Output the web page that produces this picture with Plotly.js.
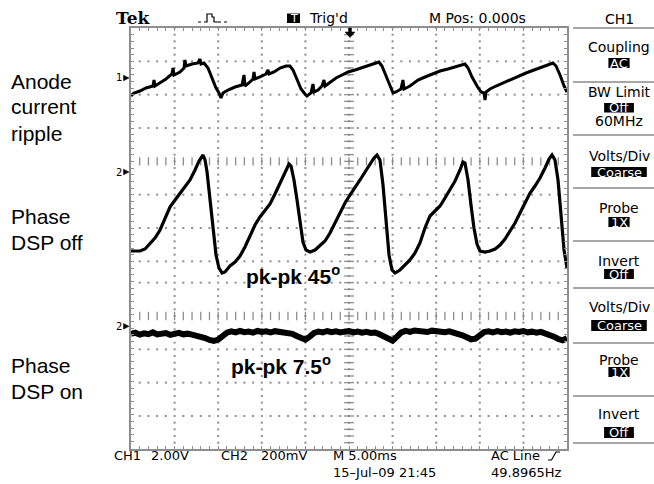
<!DOCTYPE html>
<html>
<head>
<meta charset="utf-8">
<script src="https://cdn.plot.ly/plotly-3.0.1.min.js"></script>
<style>
  html, body { margin: 0; padding: 0; background: #ffffff; }
  #scope { width: 654px; height: 484px; }
</style>
</head>
<body>
<div id="scope"></div>
<script>
// ---- Channel 1: anode current ripple (time in ms, volts) ----
const ch1Time = [0.00,0.34,1.03,1.72,2.52,2.64,2.75,3.33,4.01,4.70,4.82,4.93,5.62,6.08,6.19,6.31,7.00,7.68,7.91,8.03,8.37,8.83,9.29,9.75,10.09,10.32,10.55,11.12,11.93,12.73,12.96,13.07,13.65,13.99,14.11,14.22,14.79,15.48,15.71,15.83,16.40,17.09,17.78,18.23,18.58,19.04,19.50,19.95,20.18,20.64,20.87,20.99,21.45,21.90,22.13,22.25,22.82,23.51,24.20,24.89,25.69,26.49,27.41,28.10,28.44,28.78,29.13,29.59,30.05,30.39,30.96,31.19,31.31,31.99,32.91,33.72,34.52,35.44,36.35,37.16,37.96,38.30,38.65,39.11,39.68,40.14,40.48,40.60,40.71,41.17,41.86,42.66,43.46,44.38,45.30,46.22,47.13,47.94,48.39,48.74,49.20,49.66,50.00];
const ch1Volts = [-1.08,-0.90,-0.78,-0.60,-0.48,-0.12,-0.48,-0.30,-0.06,0.24,0.60,0.18,0.36,0.60,1.08,0.72,0.84,0.90,1.14,0.84,0.90,0.60,0.00,-0.60,-0.90,-1.20,-0.90,-0.72,-0.54,-0.42,0.18,-0.48,-0.24,-0.06,0.36,-0.06,0.06,0.24,0.48,0.24,0.36,0.60,0.72,0.72,0.48,-0.12,-0.66,-0.96,-1.08,-0.90,-0.36,-0.84,-0.72,-0.48,-0.12,-0.48,-0.24,0.00,0.18,0.36,0.48,0.60,0.78,0.90,0.96,0.72,0.24,-0.36,-0.90,-0.84,-0.66,-0.12,-0.66,-0.48,-0.12,0.06,0.24,0.42,0.54,0.66,0.78,0.84,0.60,0.06,-0.48,-0.84,-0.90,-1.32,-0.84,-0.66,-0.48,-0.30,-0.12,0.12,0.30,0.48,0.66,0.84,0.90,0.72,0.18,-0.48,-0.84];

// ---- Channel 2, phase DSP off (time in ms, millivolts) ----
const ch2OffTime = [0.00,1.03,1.61,2.18,2.75,3.33,3.90,4.47,5.05,5.62,6.19,6.77,7.34,7.80,8.26,8.49,8.72,9.06,9.40,9.75,10.09,10.44,10.78,11.35,11.93,12.50,13.07,13.65,14.22,14.79,15.37,15.94,16.51,17.09,17.66,18.12,18.35,18.69,19.04,19.38,19.72,20.07,20.53,21.10,21.67,22.25,22.82,23.39,23.97,24.54,25.11,25.69,26.26,26.84,27.41,27.87,28.21,28.55,28.90,29.24,29.59,29.93,30.28,30.85,31.42,31.99,32.57,33.14,33.71,34.29,34.86,35.44,36.01,36.58,37.16,37.73,38.07,38.30,38.65,38.99,39.33,39.68,40.02,40.60,41.17,41.75,42.32,42.89,43.46,44.04,44.61,45.18,45.76,46.33,46.90,47.48,47.94,48.28,48.62,48.97,49.31,49.66,50.00];
const ch2OffMv = [-474,-474,-462,-432,-396,-348,-282,-210,-168,-126,-90,-48,12,66,102,72,0,-168,-348,-498,-576,-606,-600,-564,-540,-504,-450,-378,-318,-270,-234,-192,-132,-66,0,48,36,-48,-168,-312,-420,-468,-480,-468,-444,-414,-366,-306,-240,-186,-138,-96,-48,0,48,84,102,72,-78,-300,-498,-588,-606,-588,-558,-528,-486,-426,-336,-264,-234,-204,-156,-108,-54,12,60,54,-48,-198,-336,-432,-474,-480,-474,-462,-438,-402,-354,-306,-246,-186,-126,-84,-36,24,78,102,72,-48,-258,-468,-576];

// ---- Channel 2, phase DSP on (time in ms, millivolts) ----
const ch2OnTime = [0,0.5,1,1.5,2,2.5,3,3.5,4,4.5,5,5.5,6,6.5,7,7.5,8,8.5,9,9.5,10,10.5,11,11.5,12,12.5,13,13.5,14,14.5,15,15.5,16,16.5,17,17.5,18,18.5,19,19.5,20,20.5,21,21.5,22,22.5,23,23.5,24,24.5,25,25.5,26,26.5,27,27.5,28,28.5,29,29.5,30,30.5,31,31.5,32,32.5,33,33.5,34,34.5,35,35.5,36,36.5,37,37.5,38,38.5,39,39.5,40,40.5,41,41.5,42,42.5,43,43.5,44,44.5,45,45.5,46,46.5,47,47.5,48,48.5,49,49.5,50];
const ch2OnMv = [-45,-38,-50,-42,-47,-36,-49,-44,-40,-51,-43,-39,-48,-44,-50,-55,-62,-70,-82,-88,-80,-60,-38,-30,-36,-27,-35,-31,-38,-28,-34,-30,-37,-29,-33,-39,-36,-45,-58,-72,-80,-62,-40,-31,-36,-28,-35,-30,-37,-32,-29,-36,-31,-38,-33,-40,-37,-48,-60,-78,-86,-62,-36,-27,-33,-25,-31,-28,-34,-26,-32,-29,-35,-30,-36,-45,-54,-66,-78,-74,-50,-34,-30,-37,-29,-35,-31,-38,-30,-34,-28,-36,-32,-38,-33,-40,-50,-62,-76,-84,-72];

// Vertical settings (divisions measured down from the top of the graticule)
const ch1VoltsPerDiv = 2.0, ch1Ground = 1.5;
const ch2MvPerDiv = 200, ch2OffGround = 4.32, ch2OnGround = 8.95;

// Status / menu text
const topLabels = ["Tek", "Trig'd", "M Pos: 0.000s"];
const menuTitle = "CH1";
const menuItems = [
  {label: "Coupling", value: "AC"},
  {label: "BW Limit", value: "Off", extra: "60MHz"},
  {label: "Volts/Div", value: "Coarse"},
  {label: "Probe", value: "1X"},
  {label: "Invert", value: "Off"},
  {label: "Volts/Div", value: "Coarse"},
  {label: "Probe", value: "1X"},
  {label: "Invert", value: "Off"}
];
const bottomRow1 = ["CH1", "2.00V", "CH2", "200mV", "M 5.00ms", "AC Line"];
const bottomRow2 = ["15\u2013Jul\u201309 21:45", "49.8965Hz"];
const sideLabels = [["Anode", "current", "ripple"], ["Phase", "DSP off"], ["Phase", "DSP on"]];
const pkLabels = ["pk-pk 45<sup>o</sup>", "pk-pk 7.5<sup>o</sup>"];

// ---- Geometry of the page ----
const L = 131, R = 567, T = 28, B = 449, W = 654, H = 484;
const YMAX = 12.63;         // graticule height in divisions
const SEAM = 7.3;           // where the upper and lower screens join
const GRID = '#8e8e8e';
const px = x => (x - L) / (R - L);
const py = y => (B - y) / (B - T);

const toDiv = (vals, ground, scale) => vals.map(v => ground - v / scale);

// Dotted graticule
const gx = [], gy = [];
for (let t = 5; t < 50; t += 5) {
  for (let d = 0; d <= SEAM; d += 0.2) { gx.push(t); gy.push(d); }
  for (let d = 8.64 - 0.2 * 6; d < YMAX; d += 0.2) { if (d > SEAM) { gx.push(t); gy.push(d); } }
}
const upperMajors = [1, 2, 3, 5, 6, 7];
const lowerMajors = [7.64, 9.64, 10.64, 11.64];
for (const d of upperMajors.concat(lowerMajors)) {
  for (let t = 1; t < 50; t += 1) { if (t % 5 !== 0) { gx.push(t); gy.push(d); } }
}
// Tick marks on the centre lines
const cx = [], cy = [];
for (const d of [4, 8.64]) for (let t = 1; t < 50; t += 1) { cx.push(t); cy.push(d); }
const vx = [], vy = [];
for (let d = 0.2; d <= SEAM; d += 0.2) { vx.push(25); vy.push(d); }
for (let d = 8.64 - 0.2 * 6; d < YMAX - 0.1; d += 0.2) { if (d > SEAM) { vx.push(25); vy.push(d); } }

const traces = [
  {x: gx, y: gy, mode: 'markers', type: 'scatter', hoverinfo: 'skip',
   marker: {symbol: 'square', size: 2, color: GRID}},
  {x: cx, y: cy, mode: 'markers', type: 'scatter', hoverinfo: 'skip',
   marker: {symbol: 'line-ns', size: 6, line: {width: 1.3, color: GRID}}},
  {x: vx, y: vy, mode: 'markers', type: 'scatter', hoverinfo: 'skip',
   marker: {symbol: 'line-ew', size: 7, line: {width: 1.3, color: GRID}}},
  {x: ch1Time, y: toDiv(ch1Volts, ch1Ground, ch1VoltsPerDiv), mode: 'lines', type: 'scatter',
   line: {color: '#000', width: 3}},
  {x: ch2OffTime, y: toDiv(ch2OffMv, ch2OffGround, ch2MvPerDiv), mode: 'lines', type: 'scatter',
   line: {color: '#000', width: 3.2}},
  {x: ch2OnTime, y: toDiv(ch2OnMv, ch2OnGround, ch2MvPerDiv), mode: 'lines', type: 'scatter',
   line: {color: '#000', width: 6}}
];

const annotations = [];
const shapes = [];
function txt(text, x, y, opt) {
  opt = opt || {};
  annotations.push({
    text: text, xref: 'paper', yref: 'paper', x: px(x), y: py(y),
    xanchor: opt.anchor || 'left', yanchor: 'middle', showarrow: false,
    align: 'left', borderpad: 0,
    font: {family: opt.family || 'DejaVu Sans', size: opt.size || 14,
           color: opt.color || '#000', weight: opt.weight || 'normal'}
  });
}
function rect(x0, y0, x1, y1, color) {
  shapes.push({type: 'rect', xref: 'paper', yref: 'paper', layer: 'above',
    x0: px(x0), x1: px(x1), y0: py(y1), y1: py(y0),
    fillcolor: color, line: {width: 0}});
}
function hline(x0, x1, y, color, w) {
  shapes.push({type: 'line', xref: 'paper', yref: 'paper', layer: 'above',
    x0: px(x0), x1: px(x1), y0: py(y), y1: py(y), line: {color: color, width: w}});
}
function path(pts, opt) {
  let d = '';
  pts.forEach((p, i) => { d += (i ? ' L' : 'M') + px(p[0]).toFixed(5) + ',' + py(p[1]).toFixed(5); });
  if (opt.closed) d += ' Z';
  shapes.push({type: 'path', xref: 'paper', yref: 'paper', layer: 'above', path: d,
    fillcolor: opt.fill || 'rgba(0,0,0,0)',
    line: {color: opt.color || '#000', width: opt.width || 1, dash: opt.dash || 'solid'}});
}

// Top status line
txt(topLabels[0], 115, 17.5, {family: 'DejaVu Serif', size: 17, weight: 'bold'});
path([[198, 22], [204, 22]], {dash: 'dot', width: 1});
path([[204, 22], [207, 22], [207, 14], [212, 14], [212, 17], [214, 17], [214, 22], [218, 22]], {width: 1.2});
path([[218, 22], [230, 22]], {dash: 'dot', width: 1});
rect(287, 13.5, 300, 23, '#000');
txt('T', 293.5, 18.3, {anchor: 'center', size: 11, color: '#fff'});
txt(topLabels[1], 308, 17.8);
txt(topLabels[2], 428, 17.8);
// Trigger position arrow
path([[348.5, 28], [351.5, 28], [351.5, 32], [355, 32], [350, 37.5], [345, 32], [348.5, 32]],
     {closed: true, fill: '#000', width: 0.5});

// Ground markers
const markers = [['1', ch1Ground], ['2', ch2OffGround], ['2', ch2OnGround]];
for (const [lab, d] of markers) {
  const y = T + d * (B - T) / YMAX;
  txt(lab, 123, y, {anchor: 'right', size: 10});
  path([[123.5, y - 2.8], [129, y], [123.5, y + 2.8]], {closed: true, fill: '#000', width: 0.5});
}

// Side menu
const MC = 619;
txt(menuTitle, MC, 19.2, {anchor: 'center'});
const seps = [28, 82, 135, 188, 241, 288, 343, 396, 443];
for (const s of seps) hline(573, 654, s, '#8a8a8a', 1.5);
const labelY = [47, 92, 156, 208, 261, 307, 360, 414];
const boxY = [[58, 68], [103, 112.5], [167, 177], [217, 227], [269, 279], [320, 331], [367, 377], [427, 438]];
menuItems.forEach((m, i) => {
  txt(m.label, MC, labelY[i], {anchor: 'center'});
  const half = m.value.length * 4.3 + 2;
  rect(MC - half, boxY[i][0], MC + half, boxY[i][1], '#000');
  txt(m.value, MC, (boxY[i][0] + boxY[i][1]) / 2, {anchor: 'center', size: 13, color: '#fff'});
  if (m.extra) txt(m.extra, MC, 121, {anchor: 'center'});
});

// Bottom readout
const row1X = [113, 150, 220, 260, 332, 490];
bottomRow1.forEach((s, i) => txt(s, row1X[i], 455.5, {size: 13}));
path([[548, 460], [551.5, 460], [556, 452], [560, 452]], {width: 1.2});
txt(bottomRow2[0], 332, 472.5, {size: 13});
txt(bottomRow2[1], 490, 472.5, {size: 13});

// Trace captions
const sideY = [[81, 107, 133], [216, 242], [365, 391]];
sideLabels.forEach((lines, g) => lines.forEach((s, k) =>
  txt(s, 10, sideY[g][k], {family: 'Liberation Sans', size: 21})));
txt(pkLabels[0], 245, 275, {family: 'Liberation Sans', size: 21, weight: 'bold'});
txt(pkLabels[1], 230, 364.5, {family: 'Liberation Sans', size: 21, weight: 'bold'});

const layout = {
  width: W, height: H,
  margin: {l: L, r: W - R, t: T, b: H - B, pad: 0},
  paper_bgcolor: '#fff', plot_bgcolor: '#fff',
  showlegend: false,
  xaxis: {range: [0, 50], showgrid: false, zeroline: false, showticklabels: false,
          showline: true, mirror: 'ticks', linecolor: GRID, linewidth: 2,
          ticks: 'inside', tick0: 0, dtick: 1, ticklen: 3, tickwidth: 1, tickcolor: GRID},
  yaxis: {range: [YMAX, 0], showgrid: false, zeroline: false, showticklabels: false,
          showline: true, mirror: 'ticks', linecolor: GRID, linewidth: 2,
          ticks: 'inside', tick0: 0, dtick: 0.2, ticklen: 3, tickwidth: 1, tickcolor: GRID},
  annotations: annotations,
  shapes: shapes
};

Plotly.newPlot('scope', traces, layout, {displayModeBar: false, staticPlot: true});
</script>
</body>
</html>
